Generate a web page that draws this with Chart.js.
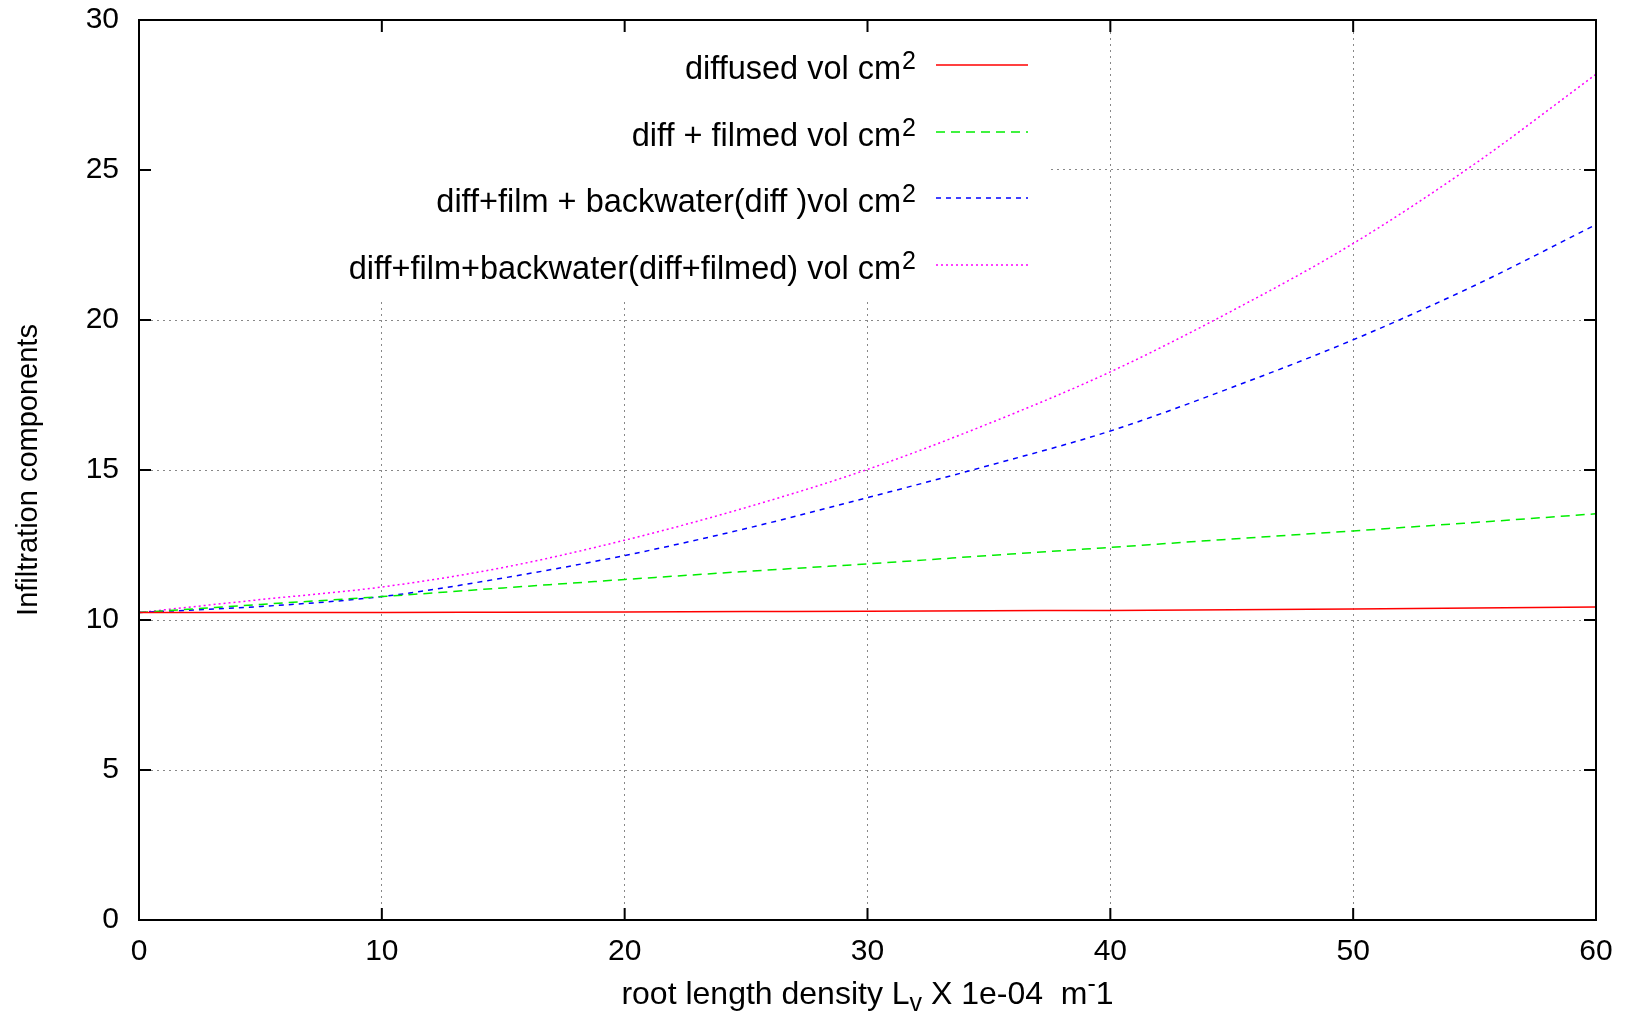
<!DOCTYPE html>
<html>
<head>
<meta charset="utf-8">
<script src="https://cdn.jsdelivr.net/npm/chart.js@4.4.0/dist/chart.umd.min.js"></script>
<style>
  html, body { margin: 0; padding: 0; background: #fff; }
  #wrap { width: 1628px; height: 1013px; }
</style>
</head>
<body>
<div id="wrap"><canvas id="chart"></canvas></div>
<script>
// root length density (x) and the four infiltration components
const xValues = [0, 5, 10, 15, 20, 25, 30, 35, 40, 45, 50, 55, 60];
const diffused = [10.25, 10.25, 10.25, 10.26, 10.27, 10.28, 10.29, 10.31, 10.32, 10.34, 10.37, 10.40, 10.43];
const diffFilmed = [10.25, 10.52, 10.78, 11.07, 11.35, 11.62, 11.87, 12.15, 12.42, 12.70, 12.97, 13.25, 13.54];
const backDiff = [10.25, 10.45, 10.78, 11.40, 12.15, 13.05, 14.08, 15.15, 16.30, 17.75, 19.34, 21.15, 23.18];
const backDiffFilmed = [10.25, 10.68, 11.10, 11.75, 12.66, 13.75, 15.02, 16.55, 18.27, 20.30, 22.55, 25.20, 28.19];

const xTicks = [0, 10, 20, 30, 40, 50, 60];
const yTicks = [0, 5, 10, 15, 20, 25, 30];

const seriesLabels = [
    'diffused vol cm',
    'diff + filmed vol cm',
    'diff+film + backwater(diff )vol cm',
    'diff+film+backwater(diff+filmed) vol cm'
];
const seriesColors = ['#ff0000', '#00ee00', '#0000ff', '#ff00ff'];
const seriesDash = [[], [9, 6], [5, 5], [2, 3]];

const FONT = 'Liberation Sans, Arial, Helvetica, sans-serif';

function toPoints(ys) {
    return xValues.map((x, i) => ({ x: x, y: ys[i] }));
}

// white legend box with line samples and superscripts, gnuplot style
const legendPlugin = {
    id: 'gnuLegend',
    beforeDatasetsDraw(chart) {
        const ctx = chart.ctx;
        const area = chart.chartArea;
        ctx.save();
        ctx.fillStyle = '#fff';
        ctx.fillRect(area.left + 1, area.top + 1, 1046 - area.left, 299 - area.top);
        const rowY = [65, 132, 198, 265];
        seriesLabels.forEach((label, i) => {
            const y = rowY[i];
            ctx.fillStyle = '#000';
            ctx.textAlign = 'right';
            ctx.textBaseline = 'alphabetic';
            ctx.font = '25px ' + FONT;
            ctx.fillText('2', 916, y + 4);
            const supW = ctx.measureText('2').width;
            ctx.font = '32.5px ' + FONT;
            ctx.fillText(label, 916 - supW - 1, y + 14);
            ctx.strokeStyle = seriesColors[i];
            ctx.lineWidth = 1.5;
            ctx.setLineDash(seriesDash[i]);
            ctx.beginPath();
            ctx.moveTo(936, y);
            ctx.lineTo(1028, y);
            ctx.stroke();
        });
        ctx.restore();
    }
};

// frame, inward ticks on all four sides, axis titles
const framePlugin = {
    id: 'gnuFrame',
    afterDraw(chart) {
        const ctx = chart.ctx;
        const area = chart.chartArea;
        const xs = chart.scales.x;
        const ys = chart.scales.y;
        ctx.save();
        ctx.strokeStyle = '#000';
        ctx.lineWidth = 2;
        ctx.setLineDash([]);
        ctx.strokeRect(area.left, area.top, area.right - area.left, area.bottom - area.top);
        ctx.beginPath();
        xTicks.forEach(v => {
            const px = xs.getPixelForValue(v);
            ctx.moveTo(px, area.bottom);
            ctx.lineTo(px, area.bottom - 12);
            ctx.moveTo(px, area.top);
            ctx.lineTo(px, area.top + 12);
        });
        yTicks.forEach(v => {
            const py = ys.getPixelForValue(v);
            ctx.moveTo(area.left, py);
            ctx.lineTo(area.left + 12, py);
            ctx.moveTo(area.right, py);
            ctx.lineTo(area.right - 12, py);
        });
        ctx.stroke();

        ctx.fillStyle = '#000';
        ctx.textBaseline = 'alphabetic';

        // y title
        ctx.save();
        ctx.translate(37, (area.top + area.bottom) / 2);
        ctx.rotate(-Math.PI / 2);
        ctx.textAlign = 'center';
        ctx.font = '29px ' + FONT;
        ctx.fillText('Infiltration components', 0, 0);
        ctx.restore();

        // x title: root length density L_v X 1e-04  m^-1
        const parts = [
            { t: 'root length density L', size: 32, dy: 0 },
            { t: 'v', size: 25, dy: 7 },
            { t: ' X 1e-04  m', size: 32, dy: 0 },
            { t: '-', size: 25, dy: -12 },
            { t: '1', size: 32, dy: 0 }
        ];
        let total = 0;
        parts.forEach(p => {
            ctx.font = p.size + 'px ' + FONT;
            p.w = ctx.measureText(p.t).width;
            total += p.w;
        });
        let x = (area.left + area.right) / 2 - total / 2;
        const base = 1004;
        ctx.textAlign = 'left';
        parts.forEach(p => {
            ctx.font = p.size + 'px ' + FONT;
            ctx.fillText(p.t, x, base + p.dy);
            x += p.w;
        });
        ctx.restore();
    }
};

new Chart(document.getElementById('chart').getContext('2d'), {
    type: 'line',
    data: {
        datasets: [diffused, diffFilmed, backDiff, backDiffFilmed].map((ys, i) => ({
            label: seriesLabels[i],
            data: toPoints(ys),
            borderColor: seriesColors[i],
            borderDash: seriesDash[i],
            borderWidth: 1.5,
            pointRadius: 0,
            fill: false,
            cubicInterpolationMode: 'monotone'
        }))
    },
    options: {
        responsive: true,
        maintainAspectRatio: false,
        animation: false,
        layout: {
            padding: { top: 20, right: 32, left: 0, bottom: 0 }
        },
        plugins: {
            legend: { display: false },
            tooltip: { enabled: false }
        },
        scales: {
            x: {
                type: 'linear',
                min: 0,
                max: 60,
                afterFit: scale => { scale.height = 93; },
                afterBuildTicks: scale => { scale.ticks = xTicks.map(v => ({ value: v })); },
                ticks: {
                    color: '#000',
                    padding: 14,
                    maxRotation: 0,
                    font: { family: FONT, size: 30 }
                },
                grid: {
                    color: '#888',
                    lineWidth: 1,
                    drawTicks: false
                },
                border: { display: false, dash: [2, 4] }
            },
            y: {
                min: 0,
                max: 30,
                afterFit: scale => {
                    scale.width = 139;
                    scale.paddingTop = 0;
                    scale.paddingBottom = 0;
                },
                afterBuildTicks: scale => { scale.ticks = yTicks.map(v => ({ value: v })); },
                ticks: {
                    color: '#000',
                    padding: 20,
                    font: { family: FONT, size: 30 }
                },
                grid: {
                    color: '#888',
                    lineWidth: 1,
                    drawTicks: false
                },
                border: { display: false, dash: [2, 4] }
            }
        }
    },
    plugins: [legendPlugin, framePlugin]
});
</script>
</body>
</html>
